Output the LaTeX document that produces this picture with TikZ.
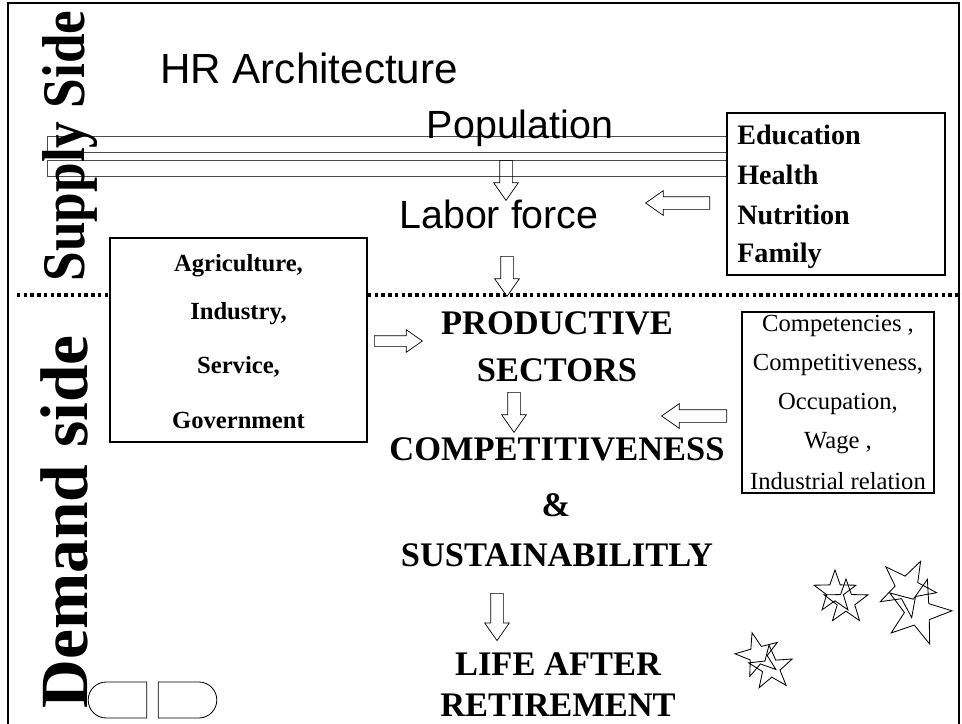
\documentclass[tikz,border=0pt]{standalone}
\usepackage{fontspec}
\usepackage{graphicx}
\setmainfont{Liberation Serif}
\newfontfamily\hrsans{Liberation Sans}
\usetikzlibrary{shapes.geometric,shapes.arrows,shapes.misc}

\tikzset{
  hrtitle/.style={font=\hrsans\fontsize{28}{30}\selectfont, inner sep=0pt},
  bigword/.style={font=\bfseries\fontsize{24.5}{26}\selectfont, inner sep=0pt},
  sidelabel/.style={font=\bfseries\fontsize{48}{50}\selectfont, rotate=90,
    inner sep=0pt, anchor=base},
  boxline/.style={font=\bfseries\fontsize{17.5}{19}\selectfont, inner sep=0pt},
  factline/.style={font=\fontsize{17.5}{19}\selectfont, inner sep=0pt},
  listbox/.style={draw, line width=0.9pt, fill=white, inner sep=0pt},
  blockarrow/.style={single arrow, draw, line width=0.5pt, inner sep=0pt,
    text height=0.3cm, text depth=0pt, single arrow head extend=0.15cm,
    single arrow tip angle=70, anchor=tail},
  flare/.style={star, star points=5, star point ratio=2.5, draw,
    line width=0.6pt, inner sep=0pt},
  capsule/.style={draw, rounded rectangle, line width=0.6pt,
    minimum width=1.7cm, minimum height=0.9cm}
}

\begin{document}
\begin{tikzpicture}[x=0.025cm, y=-0.025cm]
    \useasboundingbox (0,0) rectangle (962,724);

    % Frame and split
    \draw[line width=1.6pt] (8,724) -- (8,3) -- (959,3) -- (959,724);
    \draw[line width=2.4pt, dash pattern=on 2.4pt off 2.4pt] (17,295) -- (962,295);

    % Boxes
    \node[listbox, minimum width=6.425cm, minimum height=5.1cm] (sectors) at (238.5,340) {};
    \node[listbox, minimum width=5.45cm, minimum height=4.05cm] (supplyfac) at (836,194) {};
    \node[listbox, minimum width=4.8cm, minimum height=4.525cm] (demandfac) at (838,402.5) {};

    % Population bars
    \draw[black!70, line width=0.6pt] (supplyfac.west |- 0,136) -- (47,136) -- (47,152) -- (supplyfac.west |- 0,152);
    \draw[black!70, line width=0.6pt] (supplyfac.west |- 0,160) -- (47,160) -- (47,176) -- (supplyfac.west |- 0,176);

    % Side labels
    \node[sidelabel, font=\bfseries\fontsize{43}{45}\selectfont] (supply) at (84,146) {\scalebox{0.88}[1]{Supply Side}};
    \node[sidelabel] (demand) at (87,522) {Demand side};

    % Supply side
    \node[hrtitle, font=\hrsans\fontsize{30}{32}\selectfont] (hr) at (309,68) {HR Architecture};
    \node[hrtitle] (pop) at (520,128) {Population};
    \node[hrtitle] (labor) at (499,214) {Labor force};

    \node[boxline, font=\bfseries\fontsize{20}{22}\selectfont, anchor=west] (edu) at (737,135) {Education};
    \node[boxline, font=\bfseries\fontsize{20}{22}\selectfont, anchor=west] (health) at (737,175) {Health};
    \node[boxline, font=\bfseries\fontsize{20}{22}\selectfont, anchor=west] (nutri) at (737,215) {Nutrition};
    \node[boxline, font=\bfseries\fontsize{20}{22}\selectfont, anchor=west] (family) at (737,256) {Family};

    % Sector list
    \node[boxline] (agri) at (238.5,266) {Agriculture,};
    \node[boxline] (indus) at (238.5,314) {Industry,};
    \node[boxline] (serv) at (238.5,367) {Service,};
    \node[boxline] (gov) at (238.5,420) {Government};

    % Demand factors
    \node[factline] (compt) at (838,326) {Competencies ,};
    \node[factline] (compv) at (838,365) {Competitiveness,};
    \node[factline] (occup) at (838,404) {Occupation,};
    \node[factline] (wage) at (838,443) {Wage ,};
    \node[factline] (indrel) at (838,481) {Industrial relation};

    % Demand side
    \node[bigword] (prod) at (557,323) {PRODUCTIVE};
    \node[bigword] (sect) at (557,370) {SECTORS};
    \node[bigword] (compet) at (557,449) {COMPETITIVENESS};
    \node[bigword] (amp) at (556,505) {\&};
    \node[bigword] (sustain) at (557,555) {SUSTAINABILITLY};
    \node[bigword] (life) at (558,664) {LIFE AFTER};
    \node[bigword] (retire) at (558,705) {RETIREMENT};

    % Block arrows
    \node[blockarrow, rotate=-90, minimum height=1.0cm] (popdown) at (506,160) {};
    \node[blockarrow, rotate=-90, minimum height=1.0cm] (labdown) at (507,256) {};
    \node[blockarrow, text height=0.25cm, minimum height=1.2cm] (secright) at (374,341) {};
    \node[blockarrow, rotate=-90, minimum height=1.0cm] (prodown) at (514,392) {};
    \node[blockarrow, rotate=-90, minimum height=1.18cm] (susdown) at (497,593) {};
    \node[blockarrow, rotate=180, minimum height=1.6cm] (eduleft) at (710,203) {};
    \node[blockarrow, rotate=180, minimum height=1.625cm] (factleft) at (727,416) {};

    % Stars
    \node[flare, minimum size=1.1cm] (star1) at (835,592) {};
    \node[flare, minimum size=1.15cm] (star2) at (846,602) {};
    \node[flare, minimum size=1.5cm, rotate=-27] (star3) at (907,588) {};
    \node[flare, minimum size=1.7cm, rotate=-16] (star4) at (918,612) {};
    \node[flare, minimum size=1.15cm, rotate=15] (star5) at (758,655) {};
    \node[flare, minimum size=1.15cm, rotate=5] (star6) at (771,668) {};

    % Capsules
    \node[capsule, rounded rectangle right arc=none] (capl) at (117.5,700) {};
    \node[capsule, rounded rectangle left arc=none] (capr) at (187.5,700) {};
\end{tikzpicture}
\end{document}
